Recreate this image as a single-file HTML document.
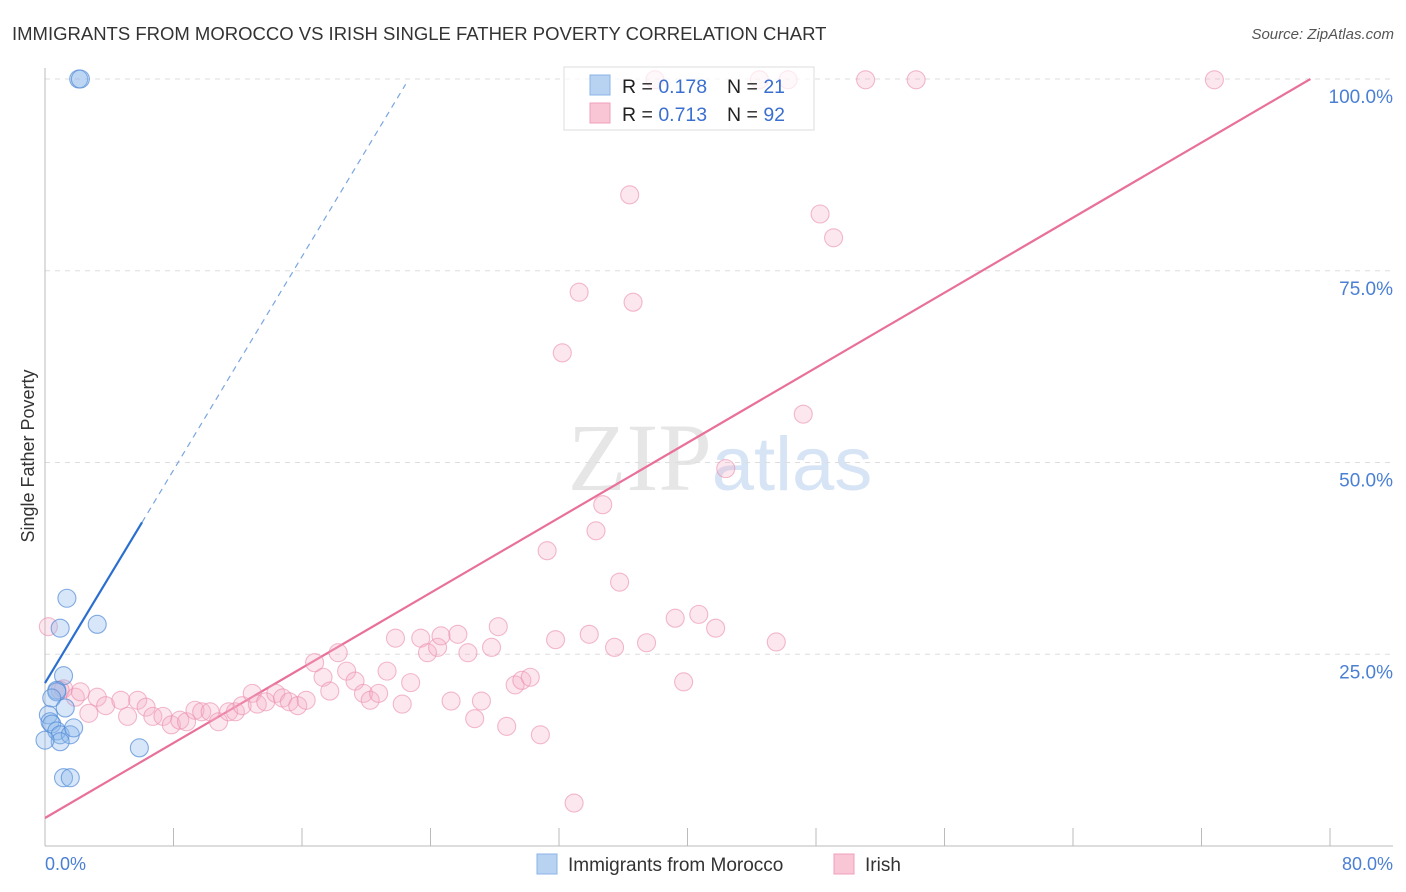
<!DOCTYPE html>
<html><head><meta charset="utf-8"><style>
body{margin:0;background:#fff;font-family:"Liberation Sans",sans-serif;}
#wrap{position:relative;width:1406px;height:892px;overflow:hidden;}
</style></head><body>
<div id="wrap">
<svg id="svg" width="1406" height="892" xmlns="http://www.w3.org/2000/svg">
<text x="12" y="40" font-size="18.5" fill="#333">IMMIGRANTS FROM MOROCCO VS IRISH SINGLE FATHER POVERTY CORRELATION CHART</text>
<text x="1394" y="39" font-size="15" fill="#555" font-style="italic" text-anchor="end">Source: ZipAtlas.com</text>
<text x="720" y="490" font-size="96" fill="#e6e6e6" text-anchor="middle" font-family="Liberation Serif">ZIP<tspan fill="#d6e4f5" font-family="Liberation Sans" font-size="76">atlas</tspan></text>
<g id="grid"></g>
<g id="axes"></g>
<g id="lines"></g>
<g id="pts"></g>
<text transform="translate(34,456) rotate(-90)" font-size="18" fill="#333" text-anchor="middle">Single Father Poverty</text>
<text x="45" y="870" font-size="18" fill="#4a7fd4">0.0%</text>
<text x="1393" y="870" font-size="18" fill="#4a7fd4" text-anchor="end">80.0%</text>
<g>
<rect x="564" y="67" width="250" height="63" fill="#fff" fill-opacity="0.7" stroke="#ddd"/>
<rect x="590" y="75" width="20" height="20" fill="#b8d2f2" stroke="#8ab4e8"/>
<rect x="590" y="103" width="20" height="20" fill="#f9c6d6" stroke="#f0a0bb"/>
<text x="622" y="93" font-size="19.5" fill="#222">R = <tspan fill="#3a6fd0">0.178</tspan></text>
<text x="727" y="93" font-size="19.5" fill="#222">N = <tspan fill="#3a6fd0"> 21</tspan></text>
<text x="622" y="121" font-size="19.5" fill="#222">R = <tspan fill="#3a6fd0">0.713</tspan></text>
<text x="727" y="121" font-size="19.5" fill="#222">N = <tspan fill="#3a6fd0">92</tspan></text>
</g>
<g>
<rect x="537" y="854" width="20" height="20" fill="#b8d2f2" stroke="#8ab4e8"/>
<text x="568" y="871" font-size="19" fill="#333">Immigrants from Morocco</text>
<rect x="834" y="854" width="20" height="20" fill="#f9c6d6" stroke="#f0a0bb"/>
<text x="865" y="871" font-size="19" fill="#333">Irish</text>
</g>
</svg>
</div>
<script>
const yTicks=[25,50,75,100];
const yTickLabels=["25.0%","50.0%","75.0%","100.0%"];
const blueX=[2.0,2.1,1.3,0.9,3.1,1.1,0.7,0.7,0.4,1.2,0.2,0.3,0.4,0.7,0.9,1.5,1.7,0.9,1.1,1.5,5.6,0.0];
const blueY=[100,100,32.3,28.4,28.9,22.2,20.3,20.1,19.3,18.0,17.1,16.2,15.9,15.0,14.5,14.5,15.4,13.6,8.9,8.9,12.8,13.8];
const pinkX=[0.2,1.1,0.9,1.8,2.1,3.1,2.6,3.6,4.5,4.9,5.5,6.0,6.4,7.0,7.5,8.0,8.4,8.9,9.3,9.8,10.3,10.9,11.3,11.7,12.3,12.6,13.1,13.7,14.1,14.5,15.0,15.5,16.0,16.5,16.9,17.4,17.9,18.4,18.9,19.3,19.8,20.3,20.8,21.2,21.7,22.3,22.7,23.3,23.5,24.1,24.5,25.1,25.5,25.9,26.5,26.9,27.4,27.9,28.3,28.8,29.4,29.8,30.3,30.7,31.4,31.7,32.3,32.7,33.1,33.8,34.1,34.7,34.9,35.7,37.4,37.9,38.8,39.8,40.4,43.4,45.0,46.0,46.8,48.7,51.7,69.4,36.2,42.4,44.1];
const pinkY=[28.6,20.5,20.3,19.4,20.1,19.4,17.3,18.3,19.0,16.9,19.0,18.1,16.9,16.9,15.8,16.4,16.2,17.7,17.5,17.5,16.2,17.5,17.5,18.3,19.9,18.5,18.8,19.9,19.3,18.8,18.3,19.0,23.9,22.0,20.2,25.2,22.8,21.5,19.9,19.0,19.9,22.8,27.1,18.5,21.3,27.1,25.2,25.9,27.4,18.9,27.6,25.2,16.6,18.9,25.9,28.6,15.6,21.0,21.6,22.0,14.5,38.5,26.9,64.3,5.6,72.2,27.6,41.1,44.5,25.9,34.4,84.9,70.9,26.5,29.7,21.4,30.2,28.4,49.2,26.6,56.3,82.4,79.3,99.9,99.9,99.9,99.9,99.9,99.9];
const blueTrend=[[0,21.25],[5.76,42.2]];
const blueTrendExt=[[5.76,42.2],[21.4,99.3]];
const pinkTrend=[[0,3.65],[75.1,100]];
const X0=45,X1=1393,Y0=846,Y100=79;
const sx=v=>X0+v/80*(X1-X0);
const sy=v=>Y0-v/100*(Y0-Y100);
const NS="http://www.w3.org/2000/svg";
function mk(tag,attrs,parent){const e=document.createElementNS(NS,tag);for(const k in attrs)e.setAttribute(k,attrs[k]);document.getElementById(parent).appendChild(e);return e;}
yTicks.forEach((t,i)=>{
 const l=mk('line',{x1:X0,x2:X1,y1:sy(t),y2:sy(t),stroke:'#ddd','stroke-dasharray':'5,5'},'grid');
 
 
 const tx=mk('text',{x:1393,y:sy(t)+24,'font-size':19,fill:'#4a7fd4','text-anchor':'end'},'grid');
 tx.textContent=yTickLabels[i];
 
 
});
let a=mk('line',{x1:X0,x2:X0,y1:68,y2:Y0,stroke:'#bbb'},'axes');


a=mk('line',{x1:X0,x2:X1,y1:Y0,y2:Y0,stroke:'#bbb'},'axes');


for(let i=1;i<=10;i++){
 const t=mk('line',{x1:X0+i*128.5,x2:X0+i*128.5,y1:828,y2:Y0,stroke:'#bbb'},'axes');
 
 
}
function seg(p,stroke,dash,w,name){
 const l=mk('line',{x1:sx(p[0][0]),y1:sy(p[0][1]),x2:sx(p[1][0]),y2:sy(p[1][1]),stroke:stroke,'stroke-width':w},'lines');
 if(dash)l.setAttribute('stroke-dasharray',dash);
 
 
}
function dots(xs,ys,fill,stroke,name){
 xs.forEach((x,i)=>{
  const c=mk('circle',{cx:sx(x),cy:sy(ys[i]),r:9,fill:fill,stroke:stroke,'stroke-width':1.1},'pts');
  
  
 });
}
dots(pinkX,pinkY,'rgba(246,175,200,0.3)','rgba(235,140,172,0.6)','irish-point');
dots(blueX,blueY,'rgba(140,182,235,0.35)','rgba(80,138,215,0.7)','morocco-point');
seg(pinkTrend,'#e8709a',null,2.2,'irish-trend-line');
seg(blueTrend,'#2a6fd0',null,2.2,'morocco-trend-line');
seg(blueTrendExt,'#7aa5e0','6,5',1.2,'morocco-trend-extension');
</script>
</body></html>
